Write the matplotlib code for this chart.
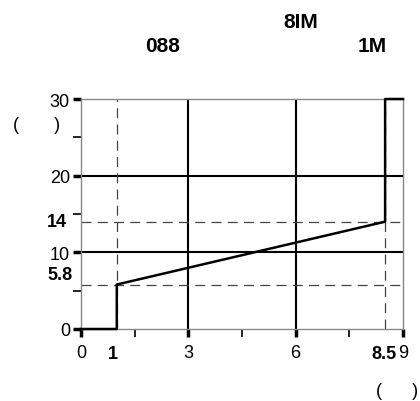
import matplotlib.pyplot as plt
from matplotlib.ticker import FixedLocator

plt.rcParams['font.family'] = ['Liberation Sans', 'DejaVu Sans']

# datos de la curva
x = [0, 1, 1, 8.5, 8.5, 9]
y = [0, 0, 5.8, 14, 30, 30]

xticks = [0, 3, 6, 9]
xminor = [1.5, 4.5, 7.5]
yticks = [0, 10, 20, 30]
yminor = [5, 15, 25]
xmarcas = [1, 8.5]
ymarcas = [5.8, 14]

fig = plt.figure(figsize=(4.2, 4.02), dpi=100)
ax = fig.add_axes([81/420, 1 - 330/402, (403-81)/420, (330-100)/402])

ax.set_xlim(0, 9)
ax.set_ylim(0, 30)

# rejilla solida
for v in [3, 6]:
    ax.axvline(v, color='black', lw=1.5, zorder=1)
for v in [10, 20]:
    ax.axhline(v, color='black', lw=1.5, zorder=1)
# lineas punteadas
for v in xmarcas:
    ax.axvline(v, color='#444444', lw=0.9, ls=(0, (8, 5)), zorder=1)
for v in ymarcas:
    ax.axhline(v, color='#444444', lw=0.9, ls=(0, (8, 5)), zorder=1)

ax.plot(x, y, color='black', lw=1.8, zorder=3, clip_on=False)

for s in ax.spines.values():
    s.set_color('#888888')
    s.set_linewidth(1)

ax.set_xticks(xticks)
ax.set_yticks(yticks)
ax.xaxis.set_minor_locator(FixedLocator(xminor))
ax.yaxis.set_minor_locator(FixedLocator(yminor))
ax.tick_params(which='major', length=6, width=2.5, labelsize=13, pad=2)
ax.tick_params(which='minor', length=6, width=1.2)
ax.tick_params(axis='x', which='major', pad=5)

# etiquetas en negrita
ax.text(0.88, -0.105, '1', transform=ax.get_xaxis_transform(),
        ha='center', va='center', fontsize=13, fontweight='bold')
ax.text(8.81, -0.105, '8.5', transform=ax.get_xaxis_transform(),
        ha='right', va='center', fontsize=13, fontweight='bold')
ax.text(-0.044, 14, '14', transform=ax.get_yaxis_transform(), ha='right', va='center',
        fontsize=13, fontweight='bold')
ax.text(-0.025, 7.1, '5.8', transform=ax.get_yaxis_transform(), ha='right', va='center',
        fontsize=13, fontweight='bold')

# textos de arriba y unidades
fig.text(301/420, 1 - 22/402, '8IM', ha='center', va='center', fontsize=15, fontweight='bold')
fig.text(163/420, 1 - 46/402, '088', ha='center', va='center', fontsize=15, fontweight='bold')
fig.text(372/420, 1 - 46/402, '1M', ha='center', va='center', fontsize=15, fontweight='bold')
fig.text(13/420, 1 - 126/402, '(       )', ha='left', va='center', fontsize=13)
fig.text(418/420, 1 - 392/402, '(      )', ha='right', va='center', fontsize=13)

fig.savefig('out.png', dpi=100)
